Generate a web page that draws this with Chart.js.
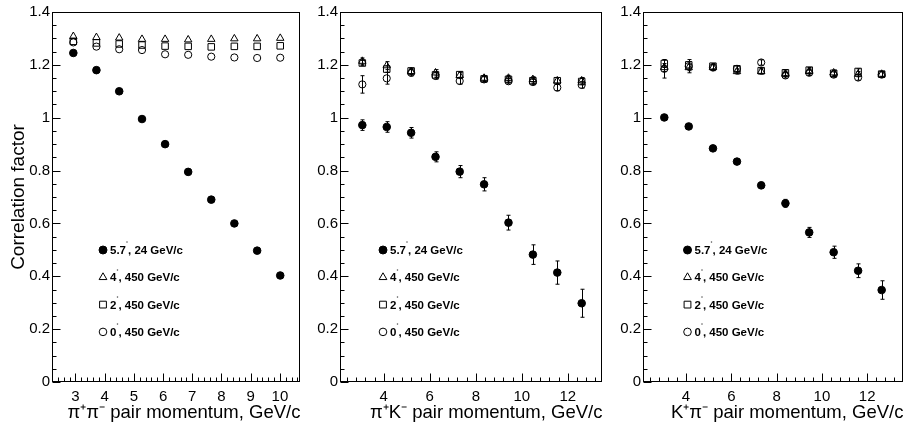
<!DOCTYPE html>
<html>
<head>
<meta charset="utf-8">
<script src="https://cdn.jsdelivr.net/npm/chart.js@4/dist/chart.umd.min.js"></script>
<style>
html,body{margin:0;padding:0;background:#fff;width:909px;height:436px;overflow:hidden;}
canvas{position:absolute;top:0;}
</style>
</head>
<body>
<canvas id="c1" width="306" height="436" style="left:0px"></canvas>
<canvas id="c2" width="302" height="436" style="left:306px"></canvas>
<canvas id="c3" width="301" height="436" style="left:608px"></canvas>
<script>
// ---------- data ----------
const seriesLabels = ['5.7°, 24 GeV/c', '4°, 450 GeV/c', '2°, 450 GeV/c', '0°, 450 GeV/c'];
const yTicks = [0, 0.2, 0.4, 0.6, 0.8, 1.0, 1.2, 1.4];

// panel 1 : pi+ pi-
const xTicksPiPi = [3, 4, 5, 6, 7, 8, 9, 10];
const xPiPi = [2.93, 3.72, 4.50, 5.28, 6.07, 6.86, 7.65, 8.44, 9.22, 10.01];
const piPi_57_24 = [1.245, 1.180, 1.100, 0.995, 0.900, 0.795, 0.690, 0.600, 0.497, 0.403];
const piPi_57_24_err = [0, 0, 0, 0, 0, 0, 0, 0, 0, 0];
const piPi_4_450 = [1.308, 1.304, 1.302, 1.297, 1.297, 1.295, 1.297, 1.299, 1.299, 1.301];
const piPi_4_450_err = [0, 0, 0, 0, 0, 0, 0, 0, 0, 0];
const piPi_2_450 = [1.289, 1.283, 1.279, 1.275, 1.271, 1.270, 1.268, 1.270, 1.270, 1.272];
const piPi_2_450_err = [0, 0, 0, 0, 0, 0, 0, 0, 0, 0];
const piPi_0_450 = [1.285, 1.269, 1.259, 1.256, 1.240, 1.238, 1.231, 1.228, 1.226, 1.227];
const piPi_0_450_err = [0, 0, 0, 0, 0, 0, 0, 0, 0, 0];

// panel 2 : pi+ K-
const xTicksPiK = [4, 6, 8, 10, 12];
const xPiK = [3.07, 4.13, 5.19, 6.25, 7.30, 8.36, 9.42, 10.48, 11.54, 12.60];
const piK_57_24 = [0.972, 0.965, 0.943, 0.852, 0.796, 0.748, 0.603, 0.482, 0.414, 0.298];
const piK_57_24_err = [0.020, 0.020, 0.020, 0.019, 0.023, 0.025, 0.028, 0.037, 0.044, 0.053];
const piK_4_450 = [1.214, 1.197, 1.175, 1.170, 1.160, 1.150, 1.150, 1.145, 1.140, 1.140];
const piK_4_450_err = [0.012, 0.015, 0.012, 0.012, 0.012, 0.010, 0.010, 0.010, 0.012, 0.012];
const piK_2_450 = [1.207, 1.184, 1.177, 1.162, 1.163, 1.147, 1.145, 1.140, 1.140, 1.137];
const piK_2_450_err = [0.010, 0.012, 0.010, 0.010, 0.010, 0.010, 0.010, 0.010, 0.012, 0.012];
const piK_0_450 = [1.126, 1.149, 1.170, 1.158, 1.139, 1.145, 1.138, 1.135, 1.114, 1.124];
const piK_0_450_err = [0.033, 0.022, 0.012, 0.012, 0.012, 0.010, 0.010, 0.010, 0.012, 0.012];

// panel 3 : K+ pi-
const xTicksKPi = [4, 6, 8, 10, 12];
const xKPi = [3.04, 4.12, 5.19, 6.25, 7.32, 8.39, 9.44, 10.52, 11.60, 12.64];
const kPi_57_24 = [1.001, 0.967, 0.884, 0.834, 0.744, 0.676, 0.566, 0.491, 0.421, 0.348];
const kPi_57_24_err = [0.008, 0.008, 0.009, 0.010, 0.012, 0.015, 0.019, 0.023, 0.026, 0.035];
const kPi_4_450 = [1.190, 1.190, 1.190, 1.175, 1.175, 1.165, 1.175, 1.170, 1.165, 1.165];
const kPi_4_450_err = [0.015, 0.012, 0.010, 0.010, 0.010, 0.010, 0.010, 0.010, 0.010, 0.010];
const kPi_2_450 = [1.205, 1.200, 1.195, 1.185, 1.178, 1.170, 1.180, 1.168, 1.175, 1.165];
const kPi_2_450_err = [0.015, 0.012, 0.010, 0.010, 0.010, 0.010, 0.010, 0.010, 0.010, 0.010];
const kPi_0_450 = [1.185, 1.195, 1.190, 1.185, 1.209, 1.160, 1.170, 1.163, 1.152, 1.163];
const kPi_0_450_err = [0.035, 0.025, 0.012, 0.012, 0.010, 0.010, 0.010, 0.010, 0.010, 0.010];

// ---------- styling ----------
const FONT = "'Liberation Sans', Arial, Helvetica, sans-serif";
const markers = [
  {style: 'circle',   r: 3.8, fill: '#000'},
  {style: 'triangle', r: 4.3, fill: 'rgba(0,0,0,0)'},
  {style: 'rect',     r: 4.6, fill: 'rgba(0,0,0,0)'},
  {style: 'circle',   r: 3.6, fill: 'rgba(0,0,0,0)'}
];

const rootPlugin = {
  id: 'rootFrame',
  beforeDatasetsDraw(chart) {
    const {ctx, scales: {x, y}} = chart;
    ctx.save();
    ctx.strokeStyle = '#000';
    ctx.lineWidth = 1;
    chart.data.datasets.forEach(ds => {
      if (!ds.errors) return;
      ds.data.forEach((pt, j) => {
        const e = ds.errors[j];
        if (!e) return;
        const px = Math.round(x.getPixelForValue(pt.x)) + 0.5;
        const y1 = y.getPixelForValue(pt.y - e), y2 = y.getPixelForValue(pt.y + e);
        ctx.beginPath();
        ctx.moveTo(px, y1); ctx.lineTo(px, y2);
        ctx.moveTo(px - 2, y1); ctx.lineTo(px + 2, y1);
        ctx.moveTo(px - 2, y2); ctx.lineTo(px + 2, y2);
        ctx.stroke();
      });
    });
    ctx.restore();
  },
  afterDraw(chart, args, opts) {
    const {ctx, chartArea: a, scales: {x, y}} = chart;
    ctx.save();
    ctx.strokeStyle = '#000';
    ctx.lineWidth = 1;
    const L = Math.round(a.left) + 0.5, R = Math.round(a.right) - 0.5;
    const T = Math.round(a.top) + 0.5, B = Math.round(a.bottom) - 0.5;
    ctx.strokeRect(L, T, R - L, B - T);
    // y ticks (inside, from left axis)
    ctx.beginPath();
    const ys = opts.yMinor;
    for (let k = 0; k * ys <= y.max + 1e-9; k++) {
      const v = k * ys;
      if (v < y.min - 1e-9) continue;
      const major = yTicks.some(t => Math.abs(t - v) < 1e-6);
      const py = Math.round(y.getPixelForValue(v)) + 0.5;
      ctx.moveTo(L, py); ctx.lineTo(L + (major ? 8 : 4), py);
    }
    // x ticks (inside, from bottom axis)
    const xs = opts.xMinor;
    for (let k = Math.ceil(x.min / xs - 1e-9); k * xs <= x.max + 1e-9; k++) {
      const v = k * xs;
      const major = opts.xTicks.some(t => Math.abs(t - v) < 1e-6);
      const px = Math.round(x.getPixelForValue(v)) + 0.5;
      if (px <= L + 1 || px >= R - 1) continue;
      ctx.moveTo(px, B); ctx.lineTo(px, B - (major ? 8 : 4));
    }
    ctx.stroke();
    // legend
    chart.data.datasets.forEach((ds, i) => {
      const mx = a.left + opts.legendX;
      const my = a.top + opts.legendY + i * 27.3;
      ctx.fillStyle = ds.pointBackgroundColor;
      ctx.strokeStyle = '#000';
      ctx.lineWidth = 1;
      Chart.helpers.drawPoint(ctx, {pointStyle: ds.pointStyle, radius: ds.pointRadius + 0.2, rotation: 0, borderWidth: 1}, mx, my);
      const parts = ds.label.split('°');
      ctx.fillStyle = '#000';
      ctx.textBaseline = 'middle';
      ctx.textAlign = 'left';
      let tx = mx + 7;
      ctx.font = "bold 11.5px " + FONT;
      ctx.fillText(parts[0], tx, my + 1);
      tx += ctx.measureText(parts[0]).width;
      ctx.font = "5px " + FONT;
      ctx.fillText('°', tx, my - 6);
      tx += ctx.measureText('°').width;
      ctx.font = "bold 11.5px " + FONT;
      ctx.fillText(parts[1], tx, my + 1);
    });
    ctx.restore();
  }
};

function pts(xs, ys) { return xs.map((v, i) => ({x: v, y: ys[i]})); }

function makeChart(id, p) {
  const datasets = p.series.map((s, i) => ({
    label: seriesLabels[i],
    data: pts(p.x, s[0]),
    errors: s[1],
    pointStyle: markers[i].style,
    pointRadius: markers[i].r,
    pointHoverRadius: markers[i].r,
    pointBackgroundColor: markers[i].fill,
    pointBorderColor: '#000',
    pointBorderWidth: 1,
    showLine: false
  }));
  return new Chart(document.getElementById(id), {
    type: 'scatter',
    data: {datasets},
    options: {
      responsive: false,
      animation: false,
      events: [],
      layout: {padding: {top: 12, right: p.padRight, left: 0, bottom: 0}},
      plugins: {
        legend: {display: false},
        tooltip: {enabled: false},
        rootFrame: {yMinor: 0.05, xMinor: p.xMinor, xTicks: p.xTicks, legendX: p.legendX, legendY: 238}
      },
      scales: {
        x: {
          type: 'linear', min: p.xMin, max: p.xMax,
          afterBuildTicks: s => { s.ticks = p.xTicks.map(v => ({value: v})); },
          afterFit: s => { s.height = 54; },
          grid: {display: false, drawTicks: false},
          border: {display: false},
          ticks: {padding: 6, color: '#000', font: {family: FONT, size: 15}, autoSkip: false, maxRotation: 0, callback: v => String(v)},
          title: {display: true, text: p.xTitle, align: 'end', color: '#000', font: {family: FONT, size: 18.5}, padding: {top: 0, bottom: 12}}
        },
        y: {
          type: 'linear', min: 0, max: 1.4,
          afterBuildTicks: s => { s.ticks = yTicks.map(v => ({value: v})); },
          afterFit: s => { s.width = p.yWidth; },
          grid: {display: false, drawTicks: false},
          border: {display: false},
          ticks: {padding: 2, color: '#000', font: {family: FONT, size: 15}, callback: v => String(+v.toFixed(2))},
          title: {display: !!p.yTitle, text: p.yTitle || '', color: '#000', font: {family: FONT, size: 19}, padding: {top: 7, bottom: 0}}
        }
      }
    },
    plugins: [rootPlugin]
  });
}

makeChart('c1', {
  x: xPiPi, xMin: 2.2, xMax: 10.7, xTicks: xTicksPiPi, xMinor: 0.2,
  series: [[piPi_57_24, piPi_57_24_err], [piPi_4_450, piPi_4_450_err], [piPi_2_450, piPi_2_450_err], [piPi_0_450, piPi_0_450_err]],
  xTitle: 'π⁺π⁻ pair momentum, GeV/c', yTitle: 'Correlation factor',
  yWidth: 52, padRight: 3, legendX: 51
});
makeChart('c2', {
  x: xPiK, xMin: 2.1, xMax: 13.5, xTicks: xTicksPiK, xMinor: 0.4,
  series: [[piK_57_24, piK_57_24_err], [piK_4_450, piK_4_450_err], [piK_2_450, piK_2_450_err], [piK_0_450, piK_0_450_err]],
  xTitle: 'π⁺K⁻ pair momentum, GeV/c',
  yWidth: 34, padRight: 2, legendX: 43
});
makeChart('c3', {
  x: xKPi, xMin: 2.1, xMax: 13.6, xTicks: xTicksKPi, xMinor: 0.4,
  series: [[kPi_57_24, kPi_57_24_err], [kPi_4_450, kPi_4_450_err], [kPi_2_450, kPi_2_450_err], [kPi_0_450, kPi_0_450_err]],
  xTitle: 'K⁺π⁻ pair momentum, GeV/c',
  yWidth: 35, padRight: 1, legendX: 44.5
});
</script>
</body>
</html>
